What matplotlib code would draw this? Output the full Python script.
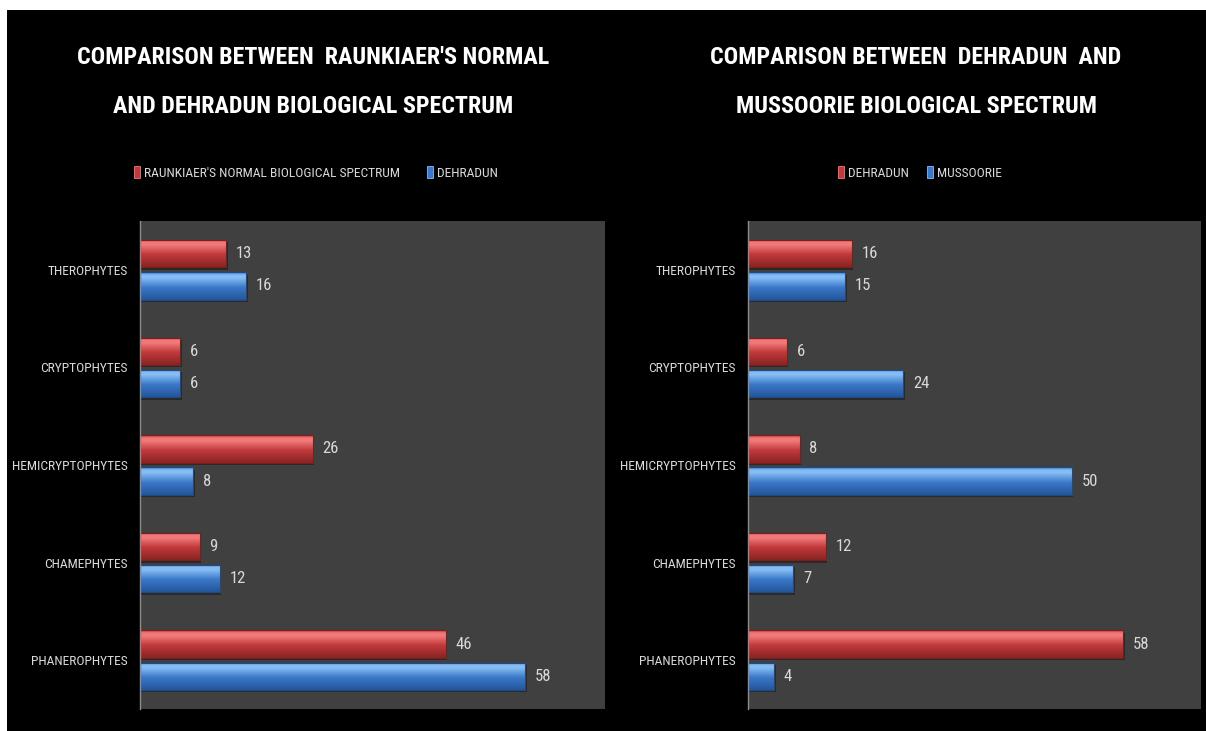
import numpy as np
import matplotlib
matplotlib.use("Agg")
import matplotlib.pyplot as plt
from matplotlib import font_manager
from matplotlib.patches import Rectangle

categories = ["PHANEROPHYTES", "CHAMEPHYTES", "HEMICRYPTOPHYTES", "CRYPTOPHYTES", "THEROPHYTES"]
raunkiaer = [46, 9, 26, 6, 13]
dehradun = [58, 12, 8, 6, 16]
mussoorie = [4, 7, 50, 24, 15]

left_title = "COMPARISON BETWEEN  RAUNKIAER'S NORMAL\nAND DEHRADUN BIOLOGICAL SPECTRUM"
right_title = "COMPARISON BETWEEN  DEHRADUN  AND\nMUSSOORIE BIOLOGICAL SPECTRUM"
left_series = ["RAUNKIAER'S NORMAL BIOLOGICAL SPECTRUM", "DEHRADUN"]
right_series = ["DEHRADUN", "MUSSOORIE"]

available = {f.name for f in font_manager.fontManager.ttflist}
FONT = "DejaVu Sans"
for cand in ["Liberation Sans Narrow", "DejaVu Sans Condensed", "Roboto Condensed", "Open Sans Condensed"]:
    if cand in available:
        FONT = cand
        break
plt.rcParams['font.family'] = [FONT, 'DejaVu Sans']

W, H = 1206, 731
fig = plt.figure(figsize=(W / 100, H / 100), dpi=100)
fig.patch.set_facecolor("white")
fig.add_artist(Rectangle((7 / W, 0), 1 - 7 / W, (H - 10) / H, transform=fig.transFigure,
                         facecolor="black", edgecolor="none", zorder=0))

RED = {"base": "#c0393b", "top": "#f27a7a", "bot": "#8a2424", "edge": "#7a1e1e"}
BLUE = {"base": "#3b78c9", "top": "#86bdf5", "bot": "#24569a", "edge": "#1f4a85"}


def gradient_bars(ax, bars, col):
    cmap = matplotlib.colors.LinearSegmentedColormap.from_list(
        "g", [(0, col["bot"]), (0.45, col["base"]), (0.8, col["top"]), (0.9, col["top"]), (1.0, col["base"])])
    grad = np.linspace(0, 1, 64).reshape(-1, 1)
    for p in bars.patches:
        x0, y0 = p.get_x(), p.get_y()
        w, h = p.get_width(), p.get_height()
        ax.add_patch(Rectangle((x0, y0 - 0.025), w + 0.25, h, facecolor="black", alpha=0.35,
                               edgecolor="none", zorder=1.5))
        im = ax.imshow(grad, cmap=cmap, aspect="auto", origin="lower",
                       extent=(x0, x0 + w, y0, y0 + h), zorder=2, interpolation="bicubic")
        im.set_clip_path(p)
        p.set_zorder(2.5)
        p.set_facecolor("none")
        p.set_edgecolor(col["edge"])
        p.set_linewidth(0.8)


def panel(rect, s1, s2, names, title, title_x, legend_x, colspace):
    ax = fig.add_axes(rect)
    ax.set_facecolor("#404040")
    y = np.arange(len(categories))
    off, hgt = 0.165, 0.28
    b1 = ax.barh(y + off, s1, height=hgt, label=names[0], color=RED["base"])
    b2 = ax.barh(y - off, s2, height=hgt, label=names[1], color=BLUE["base"])
    gradient_bars(ax, b1, RED)
    gradient_bars(ax, b2, BLUE)
    for bars in (b1, b2):
        ax.bar_label(bars, padding=7, color="#d9d9d9", fontsize=12)
    ax.set_xlim(0, 70)
    ax.set_ylim(-0.5, len(categories) - 0.5)
    ax.set_yticks(y)
    ax.set_yticklabels(categories)
    ax.tick_params(axis="y", length=0, pad=9, labelcolor="#d9d9d9", labelsize=9.7)
    ax.set_xticks([])
    for s in ["top", "right", "bottom"]:
        ax.spines[s].set_visible(False)
    ax.spines["left"].set_color("#8c8c8c")
    ax.spines["left"].set_linewidth(1.0)
    fig.text(title_x / W, 1 - 82 / H, title, ha="center", va="center", color="white",
             fontsize=17.3, fontweight="bold", linespacing=2.45)
    handles = [Rectangle((0, 0), 1, 1, facecolor=RED["base"], edgecolor=RED["top"], linewidth=0.6),
               Rectangle((0, 0), 1, 1, facecolor=BLUE["base"], edgecolor=BLUE["top"], linewidth=0.6)]
    fig.legend(handles=handles, labels=names, loc="center", ncol=2, frameon=False,
               bbox_to_anchor=(legend_x / W, 1 - 173 / H), handlelength=0.45, handleheight=1.0,
               handletextpad=0.3, columnspacing=colspace, fontsize=9.7, labelcolor="#d9d9d9")
    return ax


panel([140 / W, (H - 709) / H, 465 / W, 488 / H], raunkiaer, dehradun, left_series,
      left_title, 313, 316, 2.0)
panel([748 / W, (H - 709) / H, 453 / W, 488 / H], dehradun, mussoorie, right_series,
      right_title, 916, 920, 1.3)

fig.savefig("out.png", dpi=100, facecolor=fig.get_facecolor())
